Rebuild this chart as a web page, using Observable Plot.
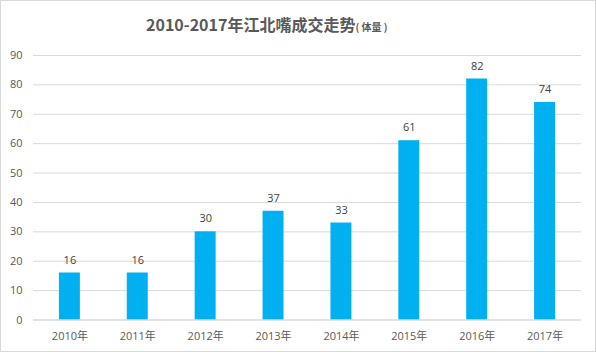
<!DOCTYPE html>
<html>
<head>
<meta charset="utf-8">
<script src="https://cdn.jsdelivr.net/npm/d3@7"></script>
<script src="https://cdn.jsdelivr.net/npm/@observablehq/plot@0.6"></script>
<style>
  html, body { margin: 0; padding: 0; background: #fff; }
  #wrap { width: 596px; height: 352px; box-sizing: border-box; border: 1px solid #d9d9d9; position: relative; overflow: hidden; font-family: "Noto Sans CJK SC", "Open Sans", sans-serif; }
  #title { position: absolute; top: 11px; left: 145px; white-space: nowrap; font-size: 16px; font-weight: bold; color: #595959; }
  #title small { font-size: 10px; font-weight: bold; }
  #chart { position: absolute; top: 39px; left: -1px; }
</style>
</head>
<body>
<div id="wrap">
  <div id="title">2010-2017年江北嘴成交走势<small>( 体量 )</small></div>
  <div id="chart"></div>
</div>
<script>
const years = ["2010年", "2011年", "2012年", "2013年", "2014年", "2015年", "2016年", "2017年"];
const volumes = [16, 16, 30, 37, 33, 61, 82, 74];
const yTicks = [0, 10, 20, 30, 40, 50, 60, 70, 80, 90];

const data = years.map((y, i) => ({year: y, value: volumes[i]}));

const chart = Plot.plot({
  width: 596,
  height: 313,
  marginTop: 15,
  marginBottom: 33,
  marginLeft: 33,
  marginRight: 14,
  style: {fontFamily: "'Open Sans', 'Noto Sans CJK SC', sans-serif", fontSize: "11px", color: "#595959", background: "transparent"},
  x: {domain: years, paddingInner: 0.69, paddingOuter: 0.345, label: null},
  y: {domain: [0, 90], label: null},
  marks: [
    Plot.gridY(yTicks, {stroke: "#d9d9d9", strokeOpacity: 1}),
    Plot.axisY({ticks: yTicks, tickSize: 0, tickPadding: 11, fontSize: 11, fill: "#595959"}),
    Plot.axisX({tickSize: 0, tickPadding: 12, fontSize: 11, fill: "#595959"}),
    Plot.barY(data, {x: "year", y: "value", fill: "#00b0f0"}),
    Plot.ruleY([0], {stroke: "#d9d9d9"}),
    Plot.text(data, {x: "year", y: "value", text: d => String(d.value), dy: -13, fill: "#404040", fontSize: 11})
  ]
});
document.getElementById("chart").appendChild(chart);
</script>
</body>
</html>
